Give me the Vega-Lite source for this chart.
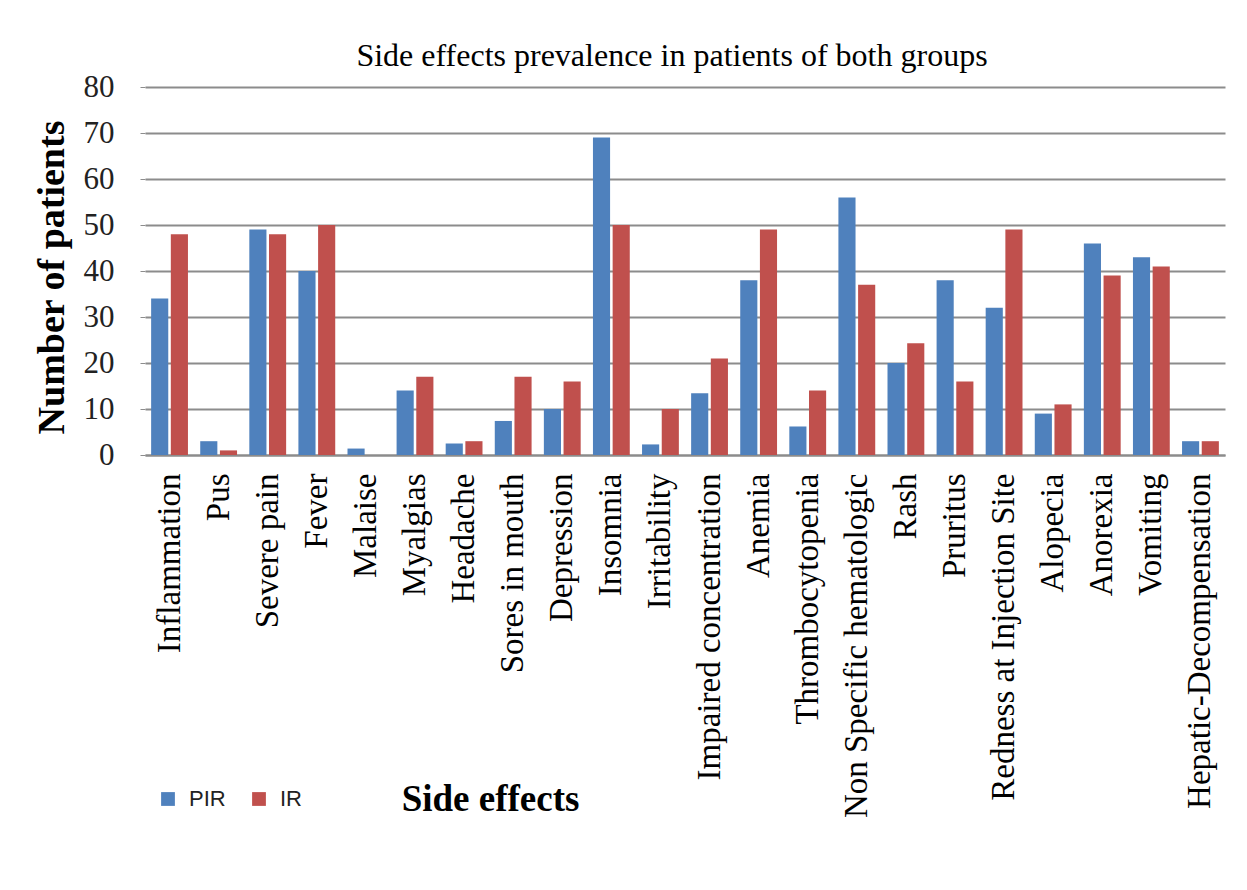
{
  "$schema": "https://vega.github.io/schema/vega-lite/v6.json",
  "autosize": {"type": "none"},
  "padding": {"left": 145, "top": 87, "right": 22, "bottom": 435},
  "width": 1080,
  "height": 368,
  "background": "white",
  "title": {
    "text": "Side effects prevalence in patients of both groups",
    "font": "Liberation Serif",
    "fontSize": 32,
    "fontWeight": "normal",
    "color": "black",
    "anchor": "middle",
    "offset": -2,
    "dx": -13
  },
  "data": {
    "values": [
      {"effect": "Inflammation", "group": "PIR", "n": 34},
      {"effect": "Inflammation", "group": "IR", "n": 48},
      {"effect": "Pus", "group": "PIR", "n": 3},
      {"effect": "Pus", "group": "IR", "n": 1},
      {"effect": "Severe pain", "group": "PIR", "n": 49},
      {"effect": "Severe pain", "group": "IR", "n": 48},
      {"effect": "Fever", "group": "PIR", "n": 40},
      {"effect": "Fever", "group": "IR", "n": 50},
      {"effect": "Malaise", "group": "PIR", "n": 1.4},
      {"effect": "Malaise", "group": "IR", "n": 0},
      {"effect": "Myalgias", "group": "PIR", "n": 14},
      {"effect": "Myalgias", "group": "IR", "n": 17},
      {"effect": "Headache", "group": "PIR", "n": 2.5},
      {"effect": "Headache", "group": "IR", "n": 3},
      {"effect": "Sores in mouth", "group": "PIR", "n": 7.4},
      {"effect": "Sores in mouth", "group": "IR", "n": 17},
      {"effect": "Depression", "group": "PIR", "n": 10},
      {"effect": "Depression", "group": "IR", "n": 16},
      {"effect": "Insomnia", "group": "PIR", "n": 69},
      {"effect": "Insomnia", "group": "IR", "n": 50},
      {"effect": "Irritability", "group": "PIR", "n": 2.3},
      {"effect": "Irritability", "group": "IR", "n": 10},
      {"effect": "Impaired concentration", "group": "PIR", "n": 13.4},
      {"effect": "Impaired concentration", "group": "IR", "n": 21},
      {"effect": "Anemia", "group": "PIR", "n": 38},
      {"effect": "Anemia", "group": "IR", "n": 49},
      {"effect": "Thrombocytopenia", "group": "PIR", "n": 6.2},
      {"effect": "Thrombocytopenia", "group": "IR", "n": 14},
      {"effect": "Non Specific hematologic", "group": "PIR", "n": 56},
      {"effect": "Non Specific hematologic", "group": "IR", "n": 37},
      {"effect": "Rash", "group": "PIR", "n": 20},
      {"effect": "Rash", "group": "IR", "n": 24.3},
      {"effect": "Pruritus", "group": "PIR", "n": 38},
      {"effect": "Pruritus", "group": "IR", "n": 16},
      {"effect": "Redness at Injection Site", "group": "PIR", "n": 32},
      {"effect": "Redness at Injection Site", "group": "IR", "n": 49},
      {"effect": "Alopecia", "group": "PIR", "n": 9},
      {"effect": "Alopecia", "group": "IR", "n": 11},
      {"effect": "Anorexia", "group": "PIR", "n": 46},
      {"effect": "Anorexia", "group": "IR", "n": 39},
      {"effect": "Vomiting", "group": "PIR", "n": 43},
      {"effect": "Vomiting", "group": "IR", "n": 41},
      {"effect": "Hepatic-Decompensation", "group": "PIR", "n": 3},
      {"effect": "Hepatic-Decompensation", "group": "IR", "n": 3}
    ]
  },
  "mark": {"type": "bar"},
  "encoding": {
    "x": {
      "field": "effect",
      "type": "nominal",
      "sort": null,
      "scale": {"paddingInner": 0.25, "paddingOuter": 0.125},
      "axis": {
        "title": "Side effects",
        "titleFont": "Liberation Serif",
        "titleFontSize": 37,
        "titleFontWeight": "bold",
        "titleColor": "black",
        "titleX": 345,
        "titleY": 344,
        "titleAlign": "center",
        "titleBaseline": "middle",
        "labelAngle": -90,
        "labelAlign": "right",
        "labelBaseline": "middle",
        "labelFont": "Liberation Serif",
        "labelFontSize": 33,
        "labelColor": "black",
        "labelLimit": 500,
        "labelPadding": 18,
        "ticks": false,
        "domainColor": "#8c8c8c",
        "domainWidth": 2
      }
    },
    "xOffset": {
      "field": "group",
      "sort": ["PIR", "IR"],
      "scale": {"paddingInner": 0.13, "paddingOuter": 0}
    },
    "y": {
      "field": "n",
      "type": "quantitative",
      "scale": {"domain": [0, 80]},
      "axis": {
        "title": "Number  of patients",
        "titleFont": "Liberation Serif",
        "titleFontSize": 38,
        "titleFontWeight": "bold",
        "titleColor": "black",
        "titleAngle": -90,
        "titleX": -93,
        "titleY": 190,
        "titleAlign": "center",
        "titleBaseline": "middle",
        "values": [0, 10, 20, 30, 40, 50, 60, 70, 80],
        "labelFont": "Liberation Serif",
        "labelFontSize": 31,
        "labelColor": "#222222",
        "labelPadding": 26,
        "tickSize": 5,
        "tickColor": "#8c8c8c",
        "gridColor": "#8c8c8c",
        "gridWidth": 2,
        "domain": false
      }
    },
    "color": {
      "field": "group",
      "type": "nominal",
      "sort": ["PIR", "IR"],
      "scale": {"domain": ["PIR", "IR"], "range": ["#4F81BD", "#C0504D"]},
      "legend": {
        "title": null,
        "orient": "none",
        "legendX": 12,
        "legendY": 701,
        "direction": "horizontal",
        "symbolType": "square",
        "symbolSize": 190,
        "symbolStrokeWidth": 0,
        "labelFont": "Liberation Sans",
        "labelFontSize": 22,
        "labelColor": "#222222",
        "labelOffset": 10,
        "columnPadding": 22
      }
    }
  },
  "config": {
    "view": {"stroke": null}
  }
}
